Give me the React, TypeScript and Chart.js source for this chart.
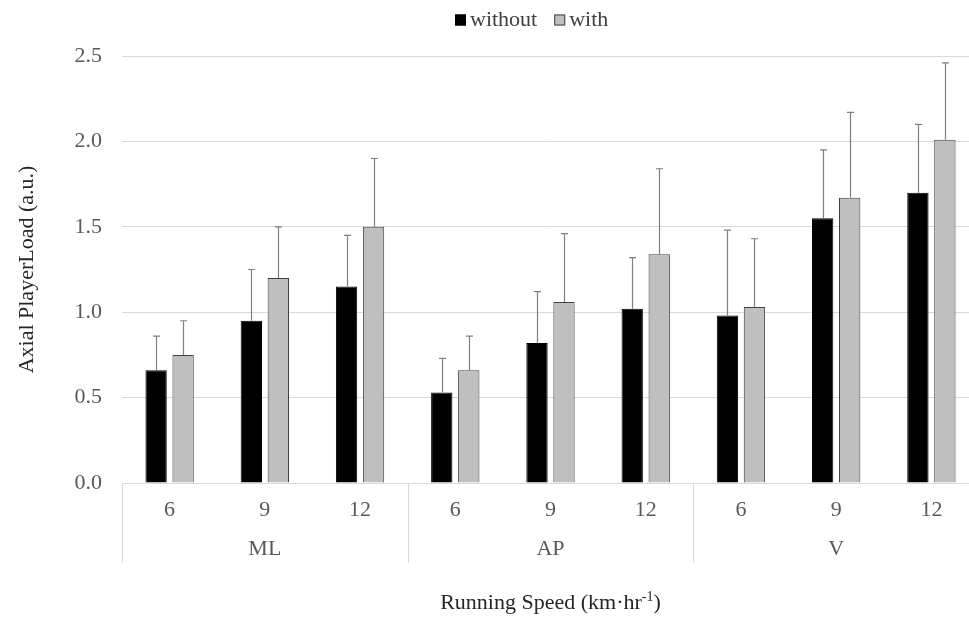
import React, { useEffect, useRef } from "react";
import { Chart, registerables } from "chart.js";

Chart.register(...registerables);

const groups = ["ML", "AP", "V"];
const speeds = ["6", "9", "12"];
const categories = groups.flatMap(() => speeds);
const withoutValues = [0.66, 0.95, 1.15, 0.53, 0.82, 1.02, 0.98, 1.55, 1.7];
const withoutErrors = [0.2, 0.3, 0.3, 0.2, 0.3, 0.3, 0.5, 0.4, 0.4];
const withValues = [0.75, 1.2, 1.5, 0.66, 1.06, 1.34, 1.03, 1.67, 2.01];
const withErrors = [0.2, 0.3, 0.4, 0.2, 0.4, 0.5, 0.4, 0.5, 0.45];
const yTicks = [0, 0.5, 1.0, 1.5, 2.0, 2.5];
const seriesNames = ["without", "with"];

const FONT = "'Liberation Serif', 'Times New Roman', serif";
const TICK_COLOR = "#595959";
const GRID_COLOR = "#d9d9d9";
const FS = 22;

const errorBarPlugin = {
  id: "errorBars",
  afterDatasetsDraw(chart: any) {
    const ctx = chart.ctx;
    const y = chart.scales.y;
    const errs = [withoutErrors, withErrors];
    ctx.save();
    ctx.strokeStyle = "#7f7f7f";
    ctx.lineWidth = 1.2;
    chart.data.datasets.forEach((ds: any, di: number) => {
      const meta = chart.getDatasetMeta(di);
      meta.data.forEach((bar: any, i: number) => {
        const v = ds.data[i];
        const top = y.getPixelForValue(v + errs[di][i]);
        const base = y.getPixelForValue(v);
        const x = Math.round(bar.x) + 0.5;
        ctx.beginPath();
        ctx.moveTo(x, base);
        ctx.lineTo(x, top);
        ctx.moveTo(x - 3.5, top);
        ctx.lineTo(x + 3.5, top);
        ctx.stroke();
      });
    });
    ctx.restore();
  },
};

const decorPlugin = {
  id: "decor",
  afterDraw(chart: any) {
    const ctx = chart.ctx;
    const xs = chart.scales.x;
    const area = chart.chartArea;
    const step = xs.getPixelForValue(1) - xs.getPixelForValue(0);
    ctx.save();
    // separators
    ctx.strokeStyle = GRID_COLOR;
    ctx.lineWidth = 1;
    for (let g = 0; g <= groups.length; g++) {
      const idx = g * speeds.length;
      const px = Math.round(xs.getPixelForValue(0) - step / 2 + idx * step) + 0.5;
      ctx.beginPath();
      ctx.moveTo(px, area.bottom);
      ctx.lineTo(px, area.bottom + 80);
      ctx.stroke();
    }
    // group labels
    ctx.fillStyle = TICK_COLOR;
    ctx.font = `${FS}px ${FONT}`;
    ctx.textAlign = "center";
    ctx.textBaseline = "middle";
    groups.forEach((g, gi) => {
      const mid = gi * speeds.length + (speeds.length - 1) / 2;
      ctx.fillText(g, xs.getPixelForValue(mid), area.bottom + 66);
    });
    // x title with superscript
    const cx = (area.left + area.right) / 2;
    const baseY = 609;
    const main = "Running Speed (km·hr";
    const sup = "-1";
    const close = ")";
    ctx.fillStyle = "#262626";
    ctx.textBaseline = "alphabetic";
    ctx.textAlign = "left";
    ctx.font = `${FS}px ${FONT}`;
    const wMain = ctx.measureText(main).width;
    const wClose = ctx.measureText(close).width;
    ctx.font = `14px ${FONT}`;
    const wSup = ctx.measureText(sup).width;
    const total = wMain + wSup + wClose;
    const x0 = cx - total / 2;
    ctx.font = `${FS}px ${FONT}`;
    ctx.fillText(main, x0, baseY);
    ctx.font = `14px ${FONT}`;
    ctx.fillText(sup, x0 + wMain, baseY - 8);
    ctx.font = `${FS}px ${FONT}`;
    ctx.fillText(close, x0 + wMain + wSup, baseY);
    // legend
    const items = [
      { label: seriesNames[0], fill: "#000000", stroke: "#000000" },
      { label: seriesNames[1], fill: "#bfbfbf", stroke: "#404040" },
    ];
    ctx.font = `${FS}px ${FONT}`;
    ctx.textBaseline = "middle";
    let lx = 455;
    const ly = 20;
    items.forEach((it) => {
      ctx.fillStyle = it.fill;
      ctx.fillRect(lx, ly - 5.5, 11, 11);
      ctx.strokeStyle = it.stroke;
      ctx.lineWidth = 1;
      ctx.strokeRect(lx + 0.5, ly - 5, 10, 10);
      ctx.fillStyle = "#404040";
      ctx.fillText(it.label, lx + 15, ly);
      lx += 15 + ctx.measureText(it.label).width + 17;
    });
    ctx.restore();
  },
};

export default function App() {
  const ref = useRef<HTMLCanvasElement | null>(null);
  useEffect(() => {
    if (!ref.current) return;
    const chart = new Chart(ref.current, {
      type: "bar",
      data: {
        labels: categories,
        datasets: [
          {
            label: seriesNames[0],
            data: withoutValues,
            backgroundColor: "#000000",
            borderColor: "#000000",
            borderWidth: 1,
            categoryPercentage: 0.567,
            barPercentage: 0.79,
          },
          {
            label: seriesNames[1],
            data: withValues,
            backgroundColor: "#bfbfbf",
            borderColor: "#404040",
            borderWidth: 1,
            categoryPercentage: 0.567,
            barPercentage: 0.79,
          },
        ],
      },
      options: {
        responsive: false,
        animation: false,
        layout: { padding: { top: 56, right: 11, left: 14, bottom: 0 } },
        plugins: {
          legend: { display: false },
          tooltip: { enabled: false },
        },
        scales: {
          x: {
            grid: { display: false, drawTicks: false },
            border: { display: true, color: GRID_COLOR },
            ticks: {
              color: TICK_COLOR,
              font: { family: FONT, size: FS },
              padding: 14,
              maxRotation: 0,
              autoSkip: false,
            },
            afterFit: (scale: any) => {
              scale.height = 136;
            },
          },
          y: {
            min: 0,
            max: 2.5,
            afterBuildTicks: (scale: any) => {
              scale.ticks = yTicks.map((v) => ({ value: v }));
            },
            grid: { color: GRID_COLOR, drawTicks: false },
            border: { display: false },
            ticks: {
              color: TICK_COLOR,
              font: { family: FONT, size: FS },
              padding: 20,
              callback: (v: any) => Number(v).toFixed(1),
            },
            title: {
              display: true,
              text: "Axial PlayerLoad (a.u.)",
              color: "#262626",
              font: { family: FONT, size: FS },
              padding: 0,
            },
            afterFit: (scale: any) => {
              scale.width = 108;
            },
          },
        },
      },
      plugins: [errorBarPlugin, decorPlugin],
    });
    return () => chart.destroy();
  }, []);
  return (
    <div
      style={{
        position: "fixed",
        left: 0,
        top: 0,
        width: 969,
        height: 619,
        overflow: "hidden",
        background: "#fff",
      }}
    >
      <canvas ref={ref} width={990} height={619} style={{ width: 990, height: 619, display: "block" }} />
    </div>
  );
}
